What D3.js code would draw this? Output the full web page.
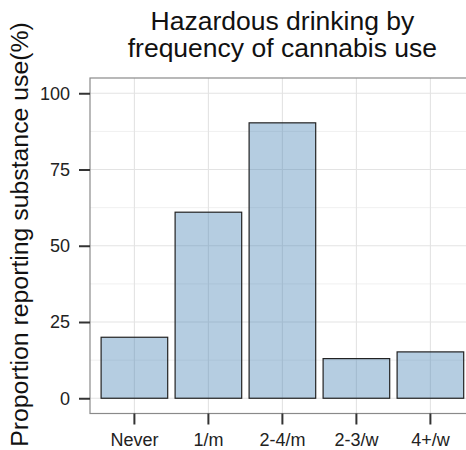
<!DOCTYPE html>
<html>
<head>
<meta charset="utf-8">
<script src="https://cdn.jsdelivr.net/npm/d3@7"></script>
<style>
  html, body { margin: 0; padding: 0; background: #fff; }
  svg { display: block; }
  text { font-family: "Liberation Sans", Arial, Helvetica, sans-serif; }
</style>
</head>
<body>
<script>
const categories = ["Never", "1/m", "2-4/m", "2-3/w", "4+/w"];
const values = [20, 61, 90.3, 13, 15.2];
const yTicks = [0, 25, 50, 75, 100];
const yMinorTicks = [12.5, 37.5, 62.5, 87.5];
const titleLines = ["Hazardous drinking by", "frequency of cannabis use"];
const yTitle = "Proportion reporting substance use(%)";

const W = 466, H = 450;
const panel = { left: 90, right: 474.8, top: 78, bottom: 413.5 };

const svg = d3.select("body").append("svg").attr("width", W).attr("height", H);

const x = d3.scaleBand().domain(categories)
  .range([panel.left, panel.right]).paddingInner(0.1).paddingOuter(0.15);
const y = d3.scaleLinear().domain([-5, 105]).range([panel.bottom, panel.top]);

// panel background
svg.append("rect").attr("x", panel.left).attr("y", panel.top)
  .attr("width", panel.right - panel.left).attr("height", panel.bottom - panel.top)
  .attr("fill", "#fff");

const grid = svg.append("g");
grid.selectAll("line.minor").data(yMinorTicks).join("line")
  .attr("x1", panel.left).attr("x2", panel.right)
  .attr("y1", d => y(d)).attr("y2", d => y(d))
  .attr("stroke", "#f0f0f0").attr("stroke-width", 1);
grid.selectAll("line.majy").data(yTicks).join("line")
  .attr("x1", panel.left).attr("x2", panel.right)
  .attr("y1", d => y(d)).attr("y2", d => y(d))
  .attr("stroke", "#e3e3e3").attr("stroke-width", 1.1);
grid.selectAll("line.majx").data(categories).join("line")
  .attr("x1", d => x(d) + x.bandwidth() / 2).attr("x2", d => x(d) + x.bandwidth() / 2)
  .attr("y1", panel.top).attr("y2", panel.bottom)
  .attr("stroke", "#e3e3e3").attr("stroke-width", 1.1);

// bars
svg.append("g").selectAll("rect").data(categories).join("rect")
  .attr("x", d => x(d))
  .attr("width", x.bandwidth())
  .attr("y", (d, i) => y(values[i]))
  .attr("height", (d, i) => y(0) - y(values[i]))
  .attr("fill", "rgba(70,130,180,0.4)")
  .attr("stroke", "#222").attr("stroke-width", 1.2);

// panel border
svg.append("rect").attr("x", panel.left).attr("y", panel.top)
  .attr("width", panel.right - panel.left).attr("height", panel.bottom - panel.top)
  .attr("fill", "none").attr("stroke", "#8a8a8a").attr("stroke-width", 1.2);

// axes
const yAxis = d3.axisLeft(y).tickValues(yTicks).tickSize(11).tickPadding(9);
const gy = svg.append("g").attr("transform", `translate(${panel.left},0)`).call(yAxis);
gy.select(".domain").remove();
gy.selectAll(".tick line").attr("stroke", "#333").attr("stroke-width", 2);
gy.selectAll(".tick text").attr("fill", "#222").style("font-size", "18px")
  .style("font-family", '"Liberation Sans", Arial, sans-serif');

const xAxis = d3.axisBottom(x).tickSize(11).tickPadding(9);
const gx = svg.append("g").attr("transform", `translate(0,${panel.bottom})`).call(xAxis);
gx.select(".domain").remove();
gx.selectAll(".tick line").attr("stroke", "#333").attr("stroke-width", 2);
gx.selectAll(".tick text").attr("fill", "#222").style("font-size", "18px")
  .style("font-family", '"Liberation Sans", Arial, sans-serif');

// title
const cx = (panel.left + panel.right) / 2;
svg.append("text").attr("x", cx).attr("y", 30).attr("text-anchor", "middle")
  .attr("fill", "#111").style("font-size", "26.5px").text(titleLines[0]);
svg.append("text").attr("x", cx).attr("y", 57).attr("text-anchor", "middle")
  .attr("fill", "#111").style("font-size", "26.5px").text(titleLines[1]);

// y title
svg.append("text").attr("transform", "translate(27.5,234.5) rotate(-90)")
  .attr("text-anchor", "middle").attr("fill", "#111").style("font-size", "24.8px")
  .text(yTitle);
</script>
</body>
</html>
